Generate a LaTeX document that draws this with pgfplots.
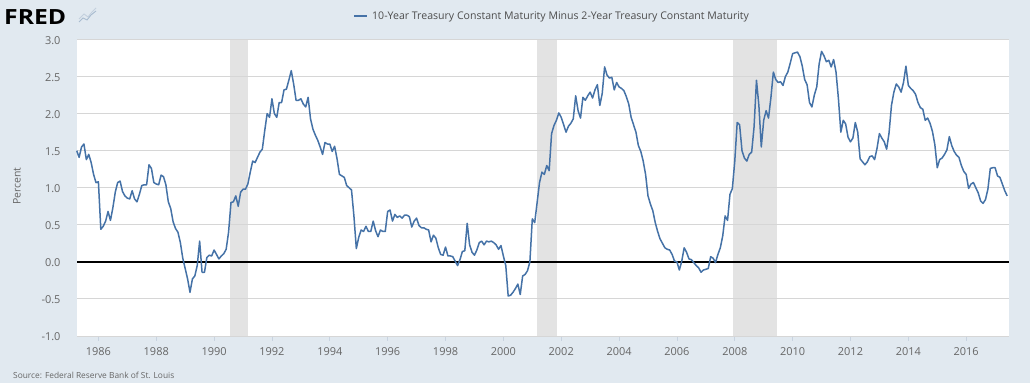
\documentclass[border=0pt]{standalone}
\usepackage{fontspec}
\setmainfont{Open Sans}
\usepackage{pgfplots}
\usepackage{pgfplotstable}
\pgfplotsset{compat=1.18}
\definecolor{fredbg}{HTML}{E1E9F0}
\definecolor{fredline}{HTML}{4572A7}
\definecolor{recgray}{HTML}{E3E3E3}
\definecolor{gridgray}{HTML}{D6D6D6}
\definecolor{labgray}{HTML}{666666}
\definecolor{leggray}{HTML}{4D4D4D}
\definecolor{axisblue}{HTML}{C8D3E0}
\definecolor{iconblue}{HTML}{A9BCD0}

% monthly values, first row = April 1985
\pgfplotstableread[row sep=\\]{
v\\
1.50\\1.41\\1.55\\1.59\\1.38\\1.45\\1.34\\1.18\\1.07\\1.08\\
0.44\\0.48\\0.55\\0.68\\0.56\\0.73\\0.94\\1.07\\1.09\\0.95\\
0.89\\0.86\\0.85\\0.96\\0.85\\0.81\\0.91\\1.03\\1.04\\1.04\\
1.31\\1.26\\1.07\\1.05\\1.04\\1.17\\1.15\\1.04\\0.81\\0.72\\
0.54\\0.45\\0.40\\0.26\\0.05\\-0.09\\-0.23\\-0.41\\-0.23\\-0.19\\
-0.05\\0.28\\-0.14\\-0.14\\0.06\\0.09\\0.08\\0.16\\0.10\\0.04\\
0.08\\0.11\\0.17\\0.40\\0.80\\0.81\\0.89\\0.75\\0.94\\0.98\\
0.98\\1.05\\1.21\\1.36\\1.34\\1.41\\1.48\\1.52\\1.77\\2.00\\
1.95\\2.20\\2.00\\1.95\\2.15\\2.15\\2.32\\2.33\\2.45\\2.58\\
2.40\\2.18\\2.18\\2.20\\2.13\\2.09\\2.22\\1.93\\1.79\\1.71\\
1.64\\1.55\\1.45\\1.61\\1.59\\1.59\\1.49\\1.56\\1.39\\1.18\\
1.16\\1.14\\1.03\\1.00\\0.97\\0.62\\0.18\\0.33\\0.43\\0.41\\
0.48\\0.41\\0.41\\0.55\\0.42\\0.34\\0.43\\0.41\\0.41\\0.68\\
0.70\\0.55\\0.64\\0.60\\0.62\\0.59\\0.63\\0.63\\0.61\\0.47\\
0.55\\0.59\\0.49\\0.46\\0.46\\0.44\\0.43\\0.27\\0.36\\0.32\\
0.19\\0.10\\0.09\\0.20\\0.08\\0.08\\0.07\\0.01\\-0.05\\0.03\\
0.14\\0.15\\0.52\\0.23\\0.13\\0.09\\0.16\\0.26\\0.28\\0.23\\
0.28\\0.27\\0.28\\0.26\\0.23\\0.17\\0.22\\0.08\\-0.05\\-0.46\\
-0.45\\-0.41\\-0.36\\-0.30\\-0.44\\-0.19\\-0.17\\-0.12\\0.00\\0.58\\
0.53\\0.80\\1.07\\1.21\\1.18\\1.30\\1.23\\1.73\\1.84\\1.91\\
2.01\\1.95\\1.85\\1.75\\1.83\\1.87\\1.93\\2.24\\2.04\\1.94\\
2.22\\2.18\\2.24\\2.29\\2.21\\2.32\\2.39\\2.11\\2.27\\2.63\\
2.52\\2.48\\2.49\\2.32\\2.42\\2.36\\2.34\\2.31\\2.23\\2.13\\
1.95\\1.85\\1.75\\1.57\\1.49\\1.36\\1.18\\0.89\\0.78\\0.69\\
0.53\\0.41\\0.31\\0.25\\0.19\\0.17\\0.16\\0.10\\0.01\\0.00\\
-0.11\\0.01\\0.19\\0.13\\0.04\\0.03\\-0.01\\-0.05\\-0.08\\-0.14\\
-0.11\\-0.10\\-0.09\\0.07\\0.05\\-0.01\\0.10\\0.19\\0.35\\0.62\\
0.56\\0.91\\0.99\\1.36\\1.88\\1.85\\1.50\\1.40\\1.36\\1.45\\
1.48\\1.82\\2.45\\2.11\\1.55\\1.91\\2.04\\1.94\\2.22\\2.56\\
2.46\\2.42\\2.43\\2.38\\2.50\\2.56\\2.68\\2.81\\2.82\\2.83\\
2.77\\2.64\\2.46\\2.39\\2.15\\2.09\\2.25\\2.36\\2.67\\2.84\\
2.78\\2.70\\2.72\\2.63\\2.73\\2.56\\2.20\\1.75\\1.91\\1.86\\
1.68\\1.62\\1.67\\1.88\\1.75\\1.39\\1.35\\1.31\\1.35\\1.42\\
1.43\\1.38\\1.53\\1.73\\1.67\\1.62\\1.52\\1.74\\2.11\\2.29\\
2.40\\2.36\\2.29\\2.42\\2.64\\2.38\\2.34\\2.31\\2.26\\2.15\\
2.08\\2.06\\1.91\\1.94\\1.87\\1.76\\1.58\\1.27\\1.38\\1.40\\
1.45\\1.51\\1.69\\1.57\\1.49\\1.44\\1.41\\1.30\\1.22\\1.18\\
0.99\\1.05\\1.07\\1.00\\0.93\\0.82\\0.79\\0.84\\0.98\\1.26\\
1.27\\1.27\\1.16\\1.14\\1.05\\0.96\\0.89\\
}\spread

\begin{document}
\begin{tikzpicture}
\fill[fredbg] (0,0) rectangle (1030bp,383bp);
% logo
\node[anchor=west, inner sep=0pt, font=\fontsize{21}{21}\selectfont\bfseries, text=black] at (4bp,366bp) {\scalebox{1.18}[1]{FRED}};
\draw[iconblue, line width=0.9bp] (79bp,361bp) -- (83bp,365bp) -- (87bp,363bp) -- (91bp,368bp) -- (96bp,372bp);
\draw[iconblue!70, line width=0.9bp] (79bp,364bp) -- (84bp,369bp) -- (88bp,366bp) -- (92bp,371bp) -- (96bp,375bp);
% legend
\draw[fredline, line width=2bp] (354bp,366.5bp) -- (367bp,366.5bp);
\node[anchor=west, inner sep=0pt, font=\fontsize{10.6}{12}\selectfont, text=leggray] at (372bp,366.5bp) {10-Year Treasury Constant Maturity Minus 2-Year Treasury Constant Maturity};
% y label
\node[rotate=90, inner sep=0pt, font=\fontsize{10.5}{12}\selectfont, text=labgray] at (17bp,197bp) {Percent};
% source
\node[anchor=west, inner sep=0pt, font=\fontsize{8.4}{10}\selectfont, text=labgray] at (13bp,8bp) {Source: Federal Reserve Bank of St. Louis};
\begin{axis}[
  at={(77bp,47bp)}, anchor=south west,
  scale only axis, width=932bp, height=296.5bp,
  xmin=1985.26, xmax=2017.48, ymin=-1, ymax=3,
  axis line style={draw=none},
  axis background/.style={fill=white},
  xtick={1986,1988,...,2016},
  ytick={-1,-0.5,0,0.5,1,1.5,2,2.5,3},
  xtick pos=bottom, xtick align=outside, major tick length=5bp,
  xtick style={axisblue, line width=0.8bp},
  ytick style={draw=none},
  ticklabel style={font=\fontsize{11}{13}\selectfont, text=labgray},
  /pgf/number format/assume math mode=true,
  x tick label style={/pgf/number format/1000 sep={}, yshift=-3bp},
  y tick label style={/pgf/number format/.cd, fixed, fixed zerofill, precision=1, /tikz/.cd, xshift=-13bp, yshift=-1bp},
  clip=false,
]
% recessions
\addplot[fill=recgray, draw=none] coordinates {(1990.54,-1) (1990.54,3) (1991.17,3) (1991.17,-1)} -- cycle;
\addplot[fill=recgray, draw=none] coordinates {(2001.17,-1) (2001.17,3) (2001.85,3) (2001.85,-1)} -- cycle;
\addplot[fill=recgray, draw=none] coordinates {(2007.95,-1) (2007.95,3) (2009.45,3) (2009.45,-1)} -- cycle;
% grid
\foreach \g in {-1,-0.5,0.5,1,1.5,2,2.5,3} {
  \edef\temp{\noexpand\addplot[gridgray, line width=0.9bp] coordinates {(1985.26,\g) (2017.48,\g)};}
  \temp
}
% zero line
\addplot[black, line width=1.6bp] coordinates {(1985.26,0) (2017.48,0)};
% series
\addplot[fredline, line width=1.5bp, line join=round] table[x expr=1985.25+\coordindex/12, y=v] {\spread};
\end{axis}
\end{tikzpicture}
\end{document}
